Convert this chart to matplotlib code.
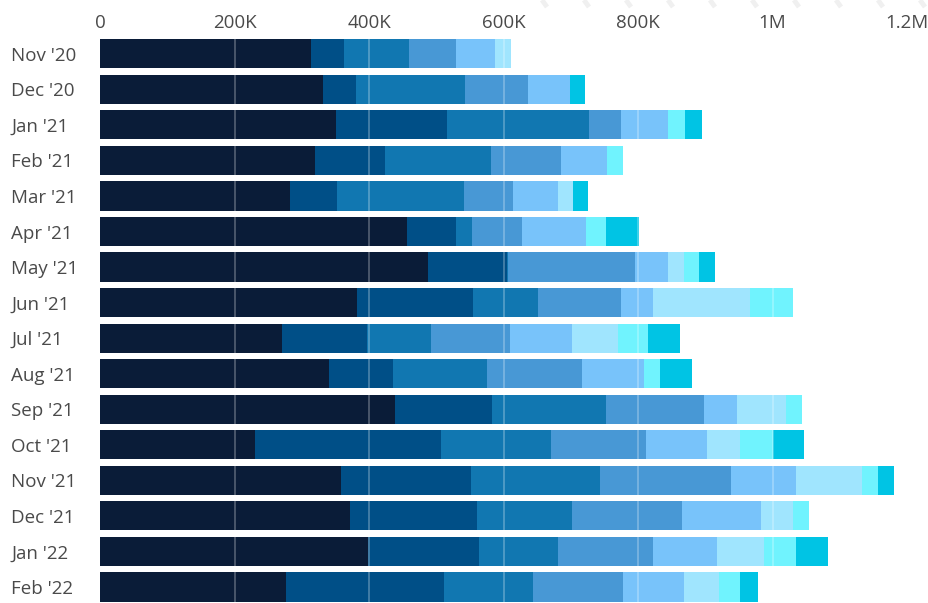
import matplotlib.pyplot as plt
from matplotlib.lines import Line2D
from matplotlib.ticker import FuncFormatter

# ── Data (values in thousands) ───────────────────────────────────────────
months = ["Nov '20", "Dec '20", "Jan '21", "Feb '21", "Mar '21", "Apr '21",
          "May '21", "Jun '21", "Jul '21", "Aug '21", "Sep '21", "Oct '21",
          "Nov '21", "Dec '21", "Jan '22", "Feb '22"]

s1 = [314, 331, 351, 320, 282, 457, 487, 382, 271, 341, 439, 230, 358, 371, 398, 277]
s2 = [49, 49, 165, 104, 71, 72, 118, 172, 126, 94, 144, 277, 193, 190, 165, 235]
s3 = [96, 163, 211, 157, 188, 24, 2, 98, 95, 140, 169, 164, 193, 141, 118, 132]
s4 = [70, 94, 47, 104, 73, 74, 189, 122, 117, 142, 146, 141, 194, 164, 141, 134]
s5 = [58, 62, 70, 69, 67, 95, 48, 48, 93, 92, 49, 91, 97, 117, 95, 91]
s6 = [24, 0, 0, 0, 22, 0, 24, 145, 68, 0, 73, 49, 98, 48, 71, 51]
s7 = [0, 0, 26, 24, 0, 30, 23, 64, 45, 24, 24, 49, 24, 24, 47, 32]
s8 = [0, 22, 25, 0, 23, 49, 23, 0, 47, 48, 0, 46, 24, 0, 47, 26]

series = [s1, s2, s3, s4, s5, s6, s7, s8]

# ── Style ────────────────────────────────────────────────────────────────
COLORS = ["#0a1c38", "#004f87", "#1177b1", "#4898d5",
          "#78c3fa", "#a0e5fe", "#70f3fe", "#00c4e4"]
TEXT_COLOR = "#4a4a4a"
FONT_SIZE = 13.5
plt.rcParams["font.family"] = ["Open Sans", "DejaVu Sans"]

W, H = 929, 603
fig = plt.figure(figsize=(W / 100, H / 100), dpi=100)

# faint diagonal dashes along the top-right edge (background decoration)
for px in range(545, W + 20, 42):
    fig.add_artist(Line2D([(px - 3) / W, (px + 2) / W], [1, 1 - 7 / H],
                          color="#f0f0f0", linewidth=3.5, solid_capstyle="butt"))

ax = fig.add_axes([100 / W, 0, (W - 100) / W, 1 - 36 / H])
ax.patch.set_alpha(0)

y = list(range(len(months)))
left = [0] * len(months)
for vals, col in zip(series, COLORS):
    v = [x * 1000 for x in vals]
    ax.barh(y, v, left=left, height=0.82, color=col, linewidth=0, zorder=2)
    left = [a + b for a, b in zip(left, v)]

# faint white gridlines drawn over the bars
for gx in range(200_000, 1_200_001, 200_000):
    ax.axvline(gx, color="white", alpha=0.3, linewidth=1.2, zorder=3)

ax.set_xlim(0, 1_232_700)
ax.set_ylim(15.45, -0.5)

ax.xaxis.tick_top()
ax.set_xticks(range(0, 1_200_001, 200_000))


def fmt(v, _pos):
    if v == 0:
        return "0"
    if v >= 1_000_000:
        return f"{v / 1_000_000:g}M"
    return f"{v / 1000:g}K"


ax.xaxis.set_major_formatter(FuncFormatter(fmt))
ax.set_yticks(y)
ax.set_yticklabels(months, ha="left")
ax.tick_params(axis="y", length=0, pad=64, labelsize=FONT_SIZE, labelcolor=TEXT_COLOR)
ax.tick_params(axis="x", length=0, pad=3, labelsize=FONT_SIZE, labelcolor=TEXT_COLOR)

for s in ax.spines.values():
    s.set_visible(False)

fig.savefig("out.png", dpi=100)
